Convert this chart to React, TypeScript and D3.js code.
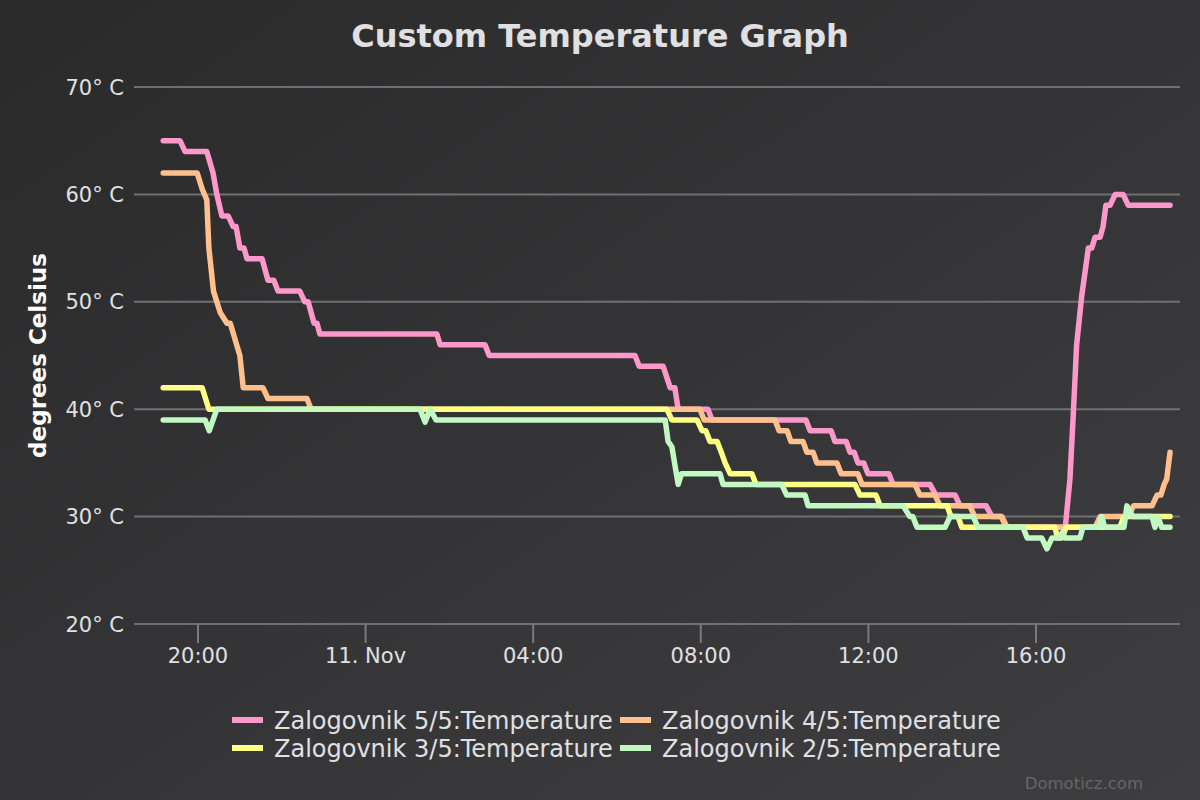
import React, { useEffect, useRef } from "react";
import * as d3 from "d3";

// hours counted from 10 Nov 00:00, value in degrees C
const zalogovnik5: [number, number][] = [
  [19.17, 65], [19.57, 65], [19.69, 64], [20.21, 64], [20.36, 62], [20.45, 60], [20.57, 58], [20.72, 58],
  [20.84, 57], [20.91, 57], [21.0, 55], [21.1, 55], [21.17, 54], [21.53, 54], [21.67, 52], [21.81, 52],
  [21.91, 51], [22.43, 51], [22.55, 50], [22.63, 50], [22.77, 48], [22.84, 48], [22.91, 47], [25.7, 47],
  [25.78, 46], [26.85, 46], [26.95, 45], [30.43, 45], [30.53, 44], [31.1, 44], [31.27, 42], [31.38, 42],
  [31.46, 40], [32.17, 40], [32.27, 39], [34.51, 39], [34.61, 38], [35.11, 38], [35.2, 37], [35.47, 37],
  [35.56, 36], [35.66, 36], [35.75, 35], [35.89, 35], [35.99, 34], [36.49, 34], [36.59, 33], [37.47, 33],
  [37.61, 32], [38.07, 32], [38.19, 31], [38.81, 31], [38.95, 30], [39.19, 30], [39.31, 29], [40.7, 29],
  [40.81, 33.5], [40.89, 39.5], [40.97, 46], [41.09, 50.5], [41.25, 55], [41.33, 55], [41.41, 56],
  [41.53, 56], [41.6, 57], [41.67, 59], [41.77, 59], [41.89, 60], [42.08, 60], [42.2, 59], [43.2, 59],
];

const zalogovnik4: [number, number][] = [
  [19.17, 62], [19.98, 62], [20.1, 60.5], [20.21, 59.5], [20.26, 55], [20.37, 51], [20.53, 49], [20.69, 48],
  [20.77, 48], [21.0, 45], [21.08, 42], [21.55, 42], [21.67, 41], [22.6, 41], [22.7, 40], [31.98, 40],
  [32.08, 39], [33.77, 39], [33.87, 38], [34.06, 38], [34.15, 37], [34.44, 37], [34.53, 36], [34.68, 36],
  [34.77, 35], [35.25, 35], [35.35, 34], [35.75, 34], [35.85, 33], [37.11, 33], [37.23, 32], [37.59, 32],
  [37.71, 31], [38.42, 31], [38.54, 30], [39.17, 30], [39.29, 29], [41.41, 29], [41.53, 30], [42.2, 30],
  [42.33, 31], [42.77, 31], [42.89, 32], [42.98, 32], [43.06, 33], [43.12, 33.5], [43.2, 36],
];

const zalogovnik3: [number, number][] = [
  [19.17, 42], [20.1, 42], [20.26, 40], [31.19, 40], [31.31, 39], [31.91, 39], [32.03, 38], [32.12, 38],
  [32.22, 37], [32.39, 37], [32.49, 36], [32.58, 35], [32.7, 34], [33.22, 34], [33.32, 33], [35.68, 33],
  [35.8, 32], [36.18, 32], [36.28, 31], [37.88, 31], [37.97, 30], [38.14, 30], [38.23, 29], [40.45, 29],
  [40.52, 28], [40.62, 28], [40.72, 29], [42.0, 29], [42.1, 30], [43.2, 30],
];

const zalogovnik2: [number, number][] = [
  [19.17, 39], [20.17, 39], [20.27, 38], [20.45, 40], [25.3, 40], [25.42, 38.8], [25.54, 40], [25.68, 39],
  [31.15, 39], [31.22, 37], [31.31, 36.5], [31.46, 33], [31.54, 34], [32.46, 34], [32.53, 33], [33.93, 33],
  [34.05, 32], [34.49, 32], [34.56, 31], [36.83, 31], [36.99, 30], [37.06, 30], [37.16, 29], [37.83, 29],
  [37.95, 30], [38.5, 30], [38.62, 29], [39.69, 29], [39.79, 28], [40.14, 28], [40.26, 27], [40.38, 28],
  [40.55, 28], [40.62, 28.5], [40.7, 28], [41.05, 28], [41.12, 29], [41.5, 29], [41.57, 30], [41.64, 29],
  [42.1, 29], [42.17, 31], [42.31, 30], [42.77, 30], [42.84, 29], [42.91, 30], [43.0, 29], [43.2, 29],
];

const seriesNames = [
  "Zalogovnik 5/5:Temperature",
  "Zalogovnik 4/5:Temperature",
  "Zalogovnik 3/5:Temperature",
  "Zalogovnik 2/5:Temperature",
];
const seriesColors = ["#fd98cb", "#ffc08d", "#ffff85", "#c2f8c2"];
const seriesData = [zalogovnik5, zalogovnik4, zalogovnik3, zalogovnik2];

const yTicks = [20, 30, 40, 50, 60, 70];
const xTickHours = [20, 24, 28, 32, 36, 40];
const xTickLabels = ["20:00", "11. Nov", "04:00", "08:00", "12:00", "16:00"];

const BASE = new Date(2016, 10, 10).getTime();
const toDate = (h: number) => new Date(BASE + h * 3600 * 1000);

const FONT = "'DejaVu Sans', sans-serif";

const App = () => {
  const ref = useRef<SVGSVGElement>(null);

  useEffect(() => {
    const width = 1200;
    const height = 800;
    const margin = { top: 87, right: 20, bottom: 176, left: 134 };

    const svg = d3.select(ref.current);
    svg.selectAll("*").remove();

    // background gradient
    const grad = svg.append("defs").append("linearGradient")
      .attr("id", "bg").attr("x1", 0).attr("y1", 0).attr("x2", 1).attr("y2", 1);
    grad.append("stop").attr("offset", 0).attr("stop-color", "#2a2a2b");
    grad.append("stop").attr("offset", 1).attr("stop-color", "#3e3e40");
    svg.append("rect").attr("width", width).attr("height", height).attr("fill", "url(#bg)");

    const x = d3.scaleTime()
      .domain([toDate(18.473), toDate(43.437)])
      .range([margin.left, width - margin.right]);

    const y = d3.scaleLinear()
      .domain([20, 70])
      .range([height - margin.bottom, margin.top]);

    // grid lines + y labels
    const yAxis = svg.append("g");
    yAxis.selectAll("line")
      .data(yTicks)
      .enter().append("line")
      .attr("x1", margin.left)
      .attr("x2", width - margin.right)
      .attr("y1", d => y(d))
      .attr("y2", d => y(d))
      .attr("stroke", "#707073")
      .attr("stroke-width", 2);
    yAxis.selectAll("text")
      .data(yTicks)
      .enter().append("text")
      .attr("x", 124)
      .attr("y", d => y(d) + 7.5)
      .attr("text-anchor", "end")
      .attr("font-family", FONT)
      .attr("font-size", 21)
      .attr("fill", "#e0e0e3")
      .text(d => `${d}° C`);

    // x ticks
    const xAxis = svg.append("g");
    xAxis.selectAll("line")
      .data(xTickHours)
      .enter().append("line")
      .attr("x1", d => x(toDate(d)))
      .attr("x2", d => x(toDate(d)))
      .attr("y1", y(20))
      .attr("y2", y(20) + 19)
      .attr("stroke", "#7a7a7d")
      .attr("stroke-width", 2);
    xAxis.selectAll("text")
      .data(xTickHours)
      .enter().append("text")
      .attr("x", d => x(toDate(d)))
      .attr("y", y(20) + 39)
      .attr("text-anchor", "middle")
      .attr("font-family", FONT)
      .attr("font-size", 21)
      .attr("fill", "#e0e0e3")
      .text((d, i) => xTickLabels[i]);

    // series
    const line = d3.line<[number, number]>()
      .x(d => x(toDate(d[0])))
      .y(d => y(d[1]));

    svg.append("g")
      .selectAll("path")
      .data(seriesData)
      .enter().append("path")
      .attr("d", d => line(d))
      .attr("fill", "none")
      .attr("stroke", (d, i) => seriesColors[i])
      .attr("stroke-width", 5.5)
      .attr("stroke-linejoin", "round")
      .attr("stroke-linecap", "round");

    // title
    svg.append("text")
      .attr("x", width / 2)
      .attr("y", 47)
      .attr("text-anchor", "middle")
      .attr("font-family", FONT)
      .attr("font-weight", "bold")
      .attr("font-size", 32)
      .attr("fill", "#e0e0e3")
      .text("Custom Temperature Graph");

    // y title
    svg.append("text")
      .attr("transform", `translate(46,${(y(20) + y(70)) / 2}) rotate(-90)`)
      .attr("text-anchor", "middle")
      .attr("font-family", FONT)
      .attr("font-weight", "bold")
      .attr("font-size", 23)
      .attr("fill", "#ffffff")
      .text("degrees Celsius");

    // legend
    const legend = svg.append("g");
    const items = legend.selectAll("g")
      .data(seriesNames)
      .enter().append("g")
      .attr("transform", (d, i) => `translate(${232 + (i % 2) * 388},${720 + Math.floor(i / 2) * 28})`);
    items.append("line")
      .attr("x1", 0).attr("x2", 31)
      .attr("stroke", (d, i) => seriesColors[i])
      .attr("stroke-width", 6);
    items.append("text")
      .attr("x", 42)
      .attr("y", 8.5)
      .attr("font-family", FONT)
      .attr("font-size", 24)
      .attr("fill", "#e0e0e3")
      .text(d => d);

    // credits
    svg.append("text")
      .attr("x", 1143)
      .attr("y", 789)
      .attr("text-anchor", "end")
      .attr("font-family", FONT)
      .attr("font-size", 16.5)
      .attr("fill", "#666666")
      .text("Domoticz.com");
  }, []);

  return (
    <svg
      ref={ref}
      width={1200}
      height={800}
      style={{ position: "absolute", left: 0, top: 0 }}
    ></svg>
  );
};

export default App;
